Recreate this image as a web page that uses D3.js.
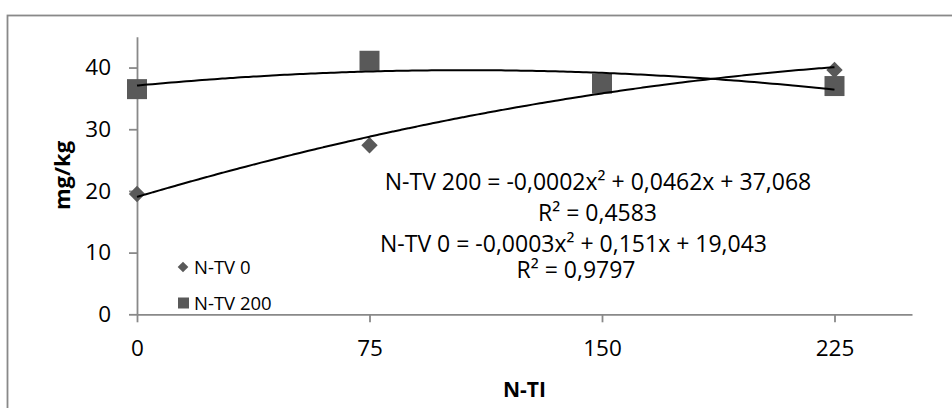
<!DOCTYPE html>
<html>
<head>
<meta charset="utf-8">
<script src="https://cdn.jsdelivr.net/npm/d3@7"></script>
<style>
  body { margin: 0; background: #fff; }
  text { font-family: "Open Sans", sans-serif; fill: #000; }
</style>
</head>
<body>
<script>
'use strict';

// data
const nti = [0, 75, 150, 225];
const ntv0 = [19.5, 27.4, 37.2, 39.6];
const ntv200 = [36.5, 41.1, 37.4, 37.0];
const seriesNames = ['N-TV 0', 'N-TV 200'];
const xTicks = [0, 75, 150, 225];
const yTicks = [0, 10, 20, 30, 40];
const eqLabels = [
  'N-TV 200 = -0,0002x² + 0,0462x + 37,068',
  'R² = 0,4583',
  'N-TV 0 = -0,0003x² + 0,151x + 19,043',
  'R² = 0,9797'
];

(function() {
  const markColor = '#595959';
  const axisColor = '#898989';

  let svgContainer = d3.select('body')
    .append('svg')
    .attr('width', 952)
    .attr('height', 408);

  // outer chart border (only top / left visible)
  svgContainer.append('rect')
    .attr('x', 7.5)
    .attr('y', 15.5)
    .attr('width', 960)
    .attr('height', 420)
    .attr('fill', 'none')
    .attr('stroke', axisColor)
    .attr('stroke-width', 1.8);

  let xScale = d3.scaleLinear().domain([0, 250]).range([137, 912]);
  let yScale = d3.scaleLinear().domain([0, 45]).range([314.3, 36.7]);

  drawAxes(xScale, yScale);
  plotData(xScale, yScale);
  makeLabels();
  makeLegend();

  function drawAxes(x, y) {
    let xAxis = d3.axisBottom(x).tickValues(xTicks).tickSize(8).tickSizeOuter(0).tickPadding(18);
    let gx = svgContainer.append('g')
      .attr('transform', 'translate(0,' + y(0) + ')')
      .call(xAxis);

    let yAxis = d3.axisLeft(y).tickValues(yTicks).tickSize(8).tickSizeOuter(0).tickPadding(18);
    let gy = svgContainer.append('g')
      .attr('transform', 'translate(' + x(0) + ',0)')
      .call(yAxis);

    [gx, gy].forEach(function(g) {
      g.select('.domain').attr('stroke', axisColor).attr('stroke-width', 1.8);
      g.selectAll('.tick line').attr('stroke', axisColor).attr('stroke-width', 1.8);
      g.selectAll('.tick text')
        .attr('fill', '#000')
        .style('font-size', '22.5px')
        .style('font-family', '"Open Sans", sans-serif');
    });
  }

  // least squares quadratic, like the Excel polynomial trendline
  function fitQuad(xs, ys) {
    let s = [0, 0, 0, 0, 0], t = [0, 0, 0];
    xs.forEach(function(xv, i) {
      for (let k = 0; k < 5; k++) s[k] += Math.pow(xv, k);
      for (let k = 0; k < 3; k++) t[k] += ys[i] * Math.pow(xv, k);
    });
    let m = [
      [s[0], s[1], s[2], t[0]],
      [s[1], s[2], s[3], t[1]],
      [s[2], s[3], s[4], t[2]]
    ];
    for (let i = 0; i < 3; i++) {
      for (let j = i + 1; j < 3; j++) {
        let f = m[j][i] / m[i][i];
        for (let k = i; k < 4; k++) m[j][k] -= f * m[i][k];
      }
    }
    let c = [0, 0, 0];
    for (let i = 2; i >= 0; i--) {
      let v = m[i][3];
      for (let k = i + 1; k < 3; k++) v -= m[i][k] * c[k];
      c[i] = v / m[i][i];
    }
    return function(xv) { return c[0] + c[1] * xv + c[2] * xv * xv; };
  }

  function plotData(x, y) {
    let diamond = d3.symbol().type(d3.symbolDiamond2).size(170);
    let square = d3.symbol().type(d3.symbolSquare).size(400);

    svgContainer.selectAll('.d0')
      .data(ntv0)
      .enter()
      .append('path')
        .attr('d', diamond)
        .attr('transform', function(d, i) { return 'translate(' + x(nti[i]) + ',' + y(d) + ')'; })
        .attr('fill', markColor);

    svgContainer.selectAll('.d200')
      .data(ntv200)
      .enter()
      .append('path')
        .attr('d', square)
        .attr('transform', function(d, i) { return 'translate(' + x(nti[i]) + ',' + y(d) + ')'; })
        .attr('fill', markColor);

    // trendlines
    let xs = d3.range(0, 225.01, 2.5);
    [ntv0, ntv200].forEach(function(vals) {
      let f = fitQuad(nti, vals);
      let line = d3.line()
        .x(function(d) { return x(d); })
        .y(function(d) { return y(f(d)); })
        .curve(d3.curveBasis);
      svgContainer.append('path')
        .datum(xs)
        .attr('d', line)
        .attr('fill', 'none')
        .attr('stroke', '#000')
        .attr('stroke-width', 2);
    });
  }

  function makeLabels() {
    svgContainer.append('text')
      .attr('x', 524.5)
      .attr('y', 397)
      .attr('text-anchor', 'middle')
      .style('font-size', '21px')
      .style('font-weight', 'bold')
      .text('N-TI');

    svgContainer.append('text')
      .attr('transform', 'translate(70,175.5)rotate(-90)')
      .attr('text-anchor', 'middle')
      .style('font-size', '22px')
      .style('font-weight', 'bold')
      .text('mg/kg');

    let eqPos = [[598, 190], [597.5, 221], [573.5, 252], [576, 277.5]];
    eqLabels.forEach(function(t, i) {
      svgContainer.append('text')
        .attr('x', eqPos[i][0])
        .attr('y', eqPos[i][1])
        .attr('text-anchor', 'middle')
        .style('font-size', '23px')
        .text(t);
    });
  }

  function makeLegend() {
    svgContainer.append('path')
      .attr('d', d3.symbol().type(d3.symbolDiamond2).size(72))
      .attr('transform', 'translate(183,267)')
      .attr('fill', markColor);
    svgContainer.append('path')
      .attr('d', d3.symbol().type(d3.symbolSquare).size(121))
      .attr('transform', 'translate(183.5,303)')
      .attr('fill', markColor);
    seriesNames.forEach(function(n, i) {
      svgContainer.append('text')
        .attr('x', 194)
        .attr('y', 274 + i * 36)
        .style('font-size', '18.5px')
        .text(n);
    });
  }
})();
</script>
</body>
</html>
